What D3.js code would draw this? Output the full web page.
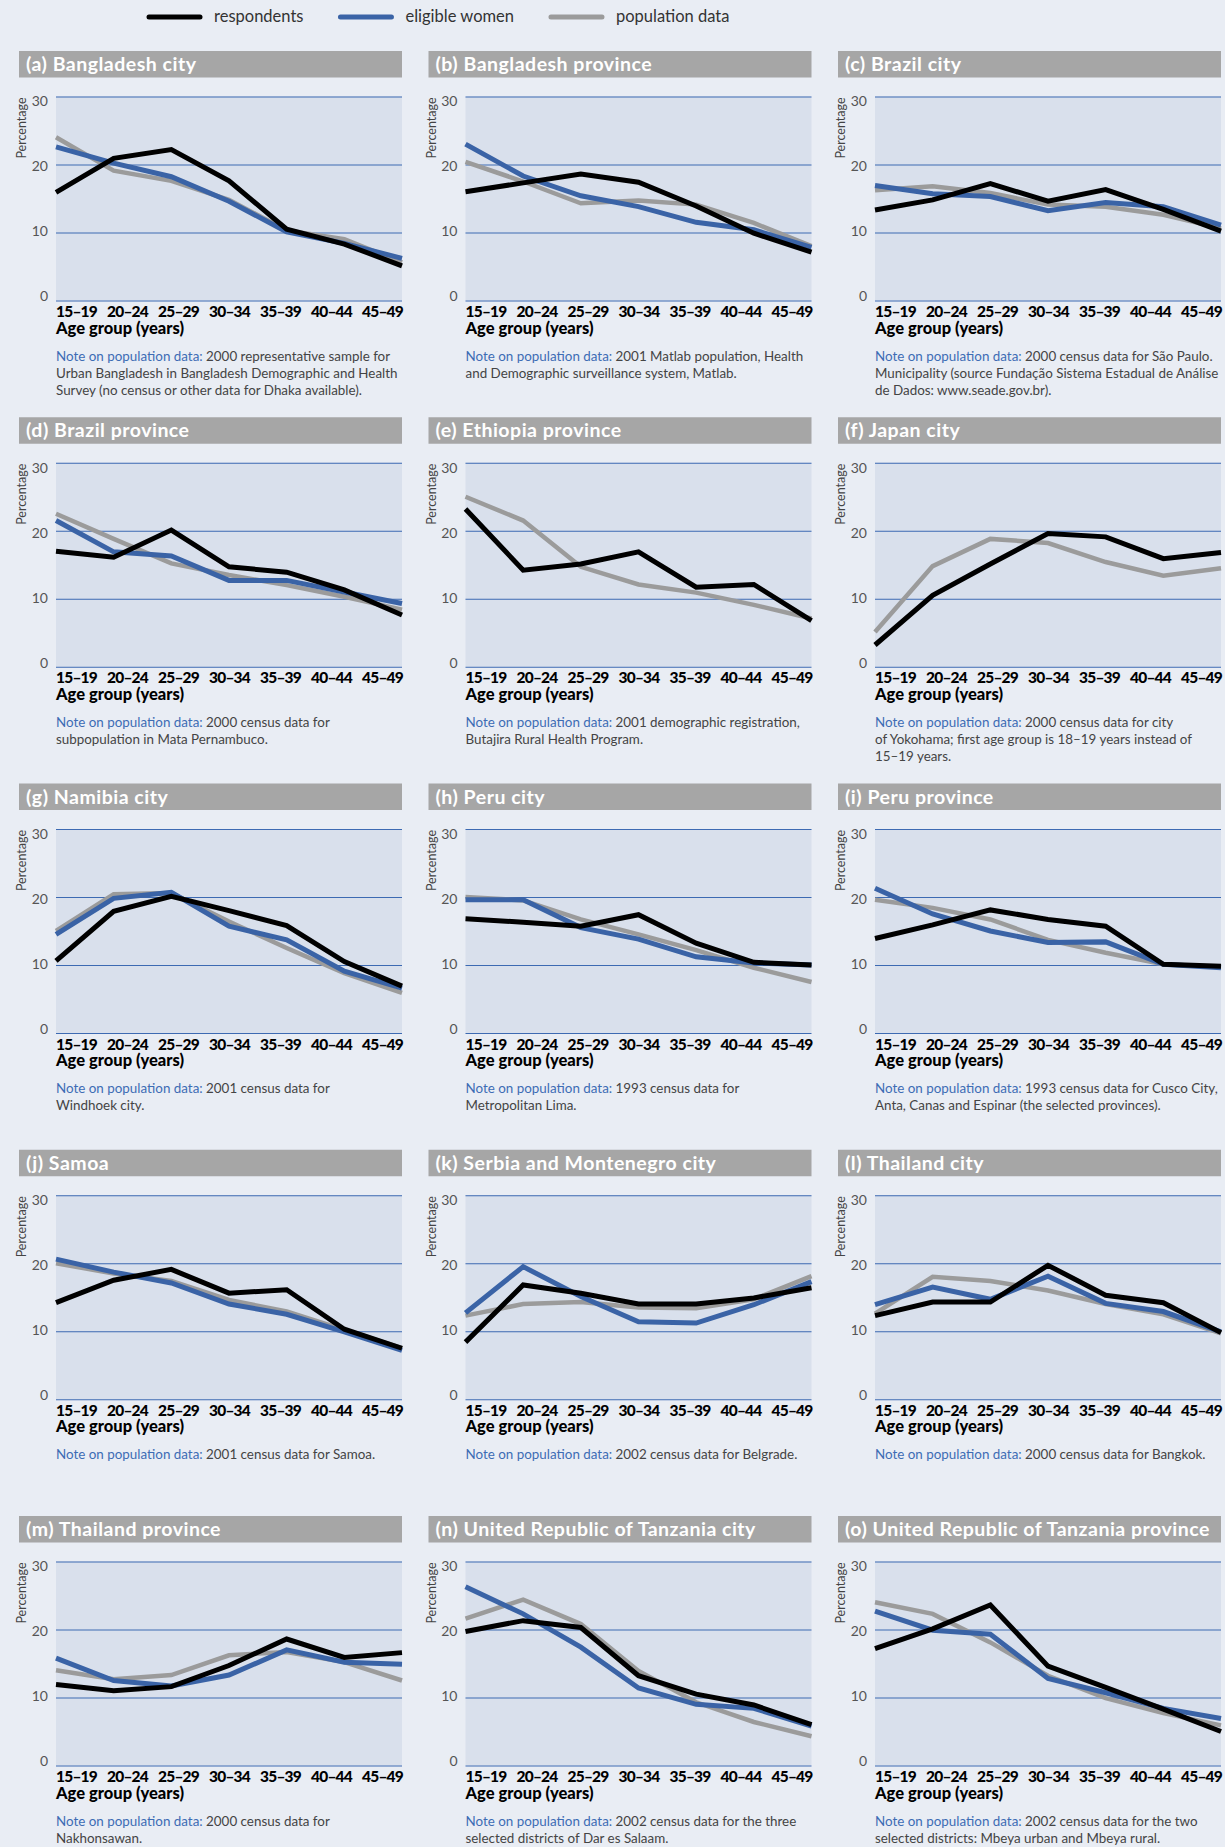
<!DOCTYPE html>
<html>
<head>
<meta charset="utf-8">
<script src="https://d3js.org/d3.v7.min.js"></script>
<style>
body { margin: 0; background: #e9edf4; }
svg { display: block; font-family: Lato, "Open Sans", sans-serif; }
.title { fill: #fff; font-weight: 700; font-size: 19.5px; letter-spacing: 0.5px; }
.xlab text { font-weight: 900; font-size: 15.5px; fill: #000; font-family: Lato, sans-serif; letter-spacing: -0.8px; }
.ylab text { font-size: 14px; fill: #555; font-family: Lato, sans-serif; }
.grid line { stroke: #3d6ab2; stroke-width: 1; }
.axtitle { font-weight: 900; font-size: 16.5px; fill: #000; }
.pct { font-size: 12.5px; fill: #444; }
.note { font-size: 13.4px; fill: #444; }
.note .lead { fill: #3d6cb4; }
.legend text { font-size: 16.5px; fill: #333; }
</style>
</head>
<body>
<svg id="chart" width="1225" height="1847"></svg>
<script>
// categories and tick labels
const ageGroups = ["15–19", "20–24", "25–29", "30–34", "35–39", "40–44", "45–49"];
const yTicks = [0, 10, 20, 30];
const seriesNames = ["respondents", "eligible women", "population data"];

const panelTitles = [
  "(a) Bangladesh city", "(b) Bangladesh province", "(c) Brazil city",
  "(d) Brazil province", "(e) Ethiopia province", "(f) Japan city",
  "(g) Namibia city", "(h) Peru city", "(i) Peru province",
  "(j) Samoa", "(k) Serbia and Montenegro city", "(l) Thailand city",
  "(m) Thailand province", "(n) United Republic of Tanzania city", "(o) United Republic of Tanzania province"
];

// percentages per age group, one row per panel
const respondents = [
  [15.9, 20.9, 22.2, 17.6, 10.5, 8.3, 5.1],
  [16.0, 17.3, 18.6, 17.4, 13.9, 9.9, 7.1],
  [13.3, 14.8, 17.2, 14.6, 16.3, 13.4, 10.2],
  [17.0, 16.1, 20.1, 14.7, 13.9, 11.3, 7.6],
  [23.2, 14.2, 15.1, 16.9, 11.7, 12.1, 6.8],
  [3.2, 10.5, 15.1, 19.6, 19.1, 15.9, 16.8],
  [10.6, 17.9, 20.1, 18.0, 15.8, 10.5, 6.9],
  [16.8, 16.3, 15.7, 17.4, 13.2, 10.4, 10.0],
  [13.9, 15.9, 18.1, 16.7, 15.7, 10.1, 9.8],
  [14.2, 17.5, 19.1, 15.6, 16.1, 10.3, 7.5],
  [8.4, 16.8, 15.6, 14.0, 14.0, 14.9, 16.4],
  [12.3, 14.3, 14.3, 19.7, 15.3, 14.2, 9.8],
  [11.9, 11.0, 11.6, 14.7, 18.6, 15.9, 16.6],
  [19.7, 21.3, 20.3, 13.2, 10.5, 8.9, 6.0],
  [17.2, 20.1, 23.6, 14.6, 11.5, 8.3, 5.0]
];

const eligibleWomen = [
  [22.6, 20.2, 18.2, 14.6, 10.1, 8.4, 6.2],
  [23.0, 18.3, 15.4, 13.8, 11.5, 10.4, 7.8],
  [16.9, 15.7, 15.3, 13.2, 14.4, 13.8, 11.1],
  [21.5, 16.9, 16.3, 12.7, 12.7, 11.0, 9.3],
  null,
  null,
  [14.5, 19.8, 20.7, 15.7, 13.7, 9.1, 6.6],
  [19.6, 19.6, 15.5, 13.8, 11.2, 10.3, 10.0],
  [21.3, 17.5, 15.0, 13.3, 13.4, 10.1, 9.6],
  [20.6, 18.7, 17.1, 14.0, 12.5, 9.9, 7.2],
  [12.7, 19.5, 15.1, 11.4, 11.2, 13.9, 17.3],
  [13.9, 16.5, 14.7, 18.1, 14.1, 12.9, 9.9],
  [15.8, 12.5, 11.7, 13.3, 17.0, 15.2, 14.9],
  [26.3, 22.3, 17.4, 11.4, 9.0, 8.4, 5.8],
  [22.7, 19.9, 19.3, 12.8, 10.7, 8.4, 6.9]
];

const populationData = [
  [24.0, 19.1, 17.6, 14.8, 10.3, 9.0, 5.6],
  [20.4, 17.5, 14.3, 14.7, 14.1, 11.4, 8.0],
  [16.2, 16.8, 15.8, 14.1, 13.8, 12.6, 10.6],
  [22.5, 18.8, 15.2, 13.5, 12.0, 10.3, 8.4],
  [25.0, 21.5, 14.7, 12.1, 10.9, 9.1, 7.1],
  [5.1, 14.8, 18.8, 18.2, 15.4, 13.4, 14.5],
  [15.0, 20.4, 20.6, 16.4, 12.5, 8.8, 5.9],
  [20.0, 19.5, 16.7, 14.5, 12.2, 9.6, 7.5],
  [19.6, 18.4, 16.7, 13.7, 11.8, 10.1, 9.7],
  [20.0, 18.5, 17.4, 14.6, 12.9, 10.2, 7.5],
  [12.3, 14.0, 14.3, 13.5, 13.4, 14.7, 18.1],
  [12.6, 18.0, 17.4, 16.0, 14.0, 12.5, 9.7],
  [14.0, 12.7, 13.3, 16.2, 16.7, 15.2, 12.5],
  [21.6, 24.4, 20.8, 13.9, 9.3, 6.4, 4.3],
  [24.0, 22.3, 18.1, 13.2, 9.9, 7.7, 5.9]
];

const noteLead = "Note on population data:";
const noteLines = [
  [" 2000 representative sample for", "Urban Bangladesh in Bangladesh Demographic and Health", "Survey (no census or other data for Dhaka available)."],
  [" 2001 Matlab population, Health", "and Demographic surveillance system, Matlab."],
  [" 2000 census data for São Paulo.", "Municipality (source Fundação Sistema Estadual de Análise", "de Dados: www.seade.gov.br)."],
  [" 2000 census data for", "subpopulation in Mata Pernambuco."],
  [" 2001 demographic registration,", "Butajira Rural Health Program."],
  [" 2000 census data for city", "of Yokohama; first age group is 18–19 years instead of", "15–19 years."],
  [" 2001 census data for", "Windhoek city."],
  [" 1993 census data for", "Metropolitan Lima."],
  [" 1993 census data for Cusco City,", "Anta, Canas and Espinar (the selected provinces)."],
  [" 2001 census data for Samoa."],
  [" 2002 census data for Belgrade."],
  [" 2000 census data for Bangkok."],
  [" 2000 census data for", "Nakhonsawan."],
  [" 2002 census data for the three", "selected districts of Dar es Salaam."],
  [" 2002 census data for the two", "selected districts:  Mbeya urban and Mbeya rural."]
];

// styling / layout
const colors = ["#000000", "#3a63a6", "#9b9b9b"];
const widths = [5, 5, 4.5];
const colX = c => 19 + c * 409.5;
const rowY = r => 51 + r * 366.25;
const titleW = 383, titleH = 26.5;
const plotL = 37, plotT = 45.5, plotW = 346, plotH = 204;

const svg = d3.select("#chart");

const x = d3.scalePoint().domain(ageGroups).range([0, plotW]);
const xLab = d3.scalePoint().domain(ageGroups).range([20, plotW - 20]);
const y = d3.scaleLinear().domain([0, 30]).range([plotH, 0]);
const yLab = d3.scaleLinear().domain([0, 30]).range([plotH - 4, 5]);

// legend
const legend = svg.append("g").attr("class", "legend").attr("transform", "translate(149,17)");
let lx = 0;
seriesNames.forEach((name, i) => {
  legend.append("line")
    .attr("x1", lx).attr("x2", lx + 51).attr("y1", 0).attr("y2", 0)
    .attr("stroke", colors[i]).attr("stroke-width", 5).attr("stroke-linecap", "round");
  const t = legend.append("text").attr("x", lx + 65).attr("y", 5).text(name);
  lx += 65 + t.node().getComputedTextLength() + 37;
});

panelTitles.forEach((title, i) => {
  const g = svg.append("g")
    .attr("transform", "translate(" + colX(i % 3) + "," + rowY(Math.floor(i / 3)) + ")");

  g.append("rect").attr("width", titleW).attr("height", titleH).attr("fill", "#a6a6a6");
  g.append("text").attr("class", "title").attr("x", 7).attr("y", 20).text(title);

  const p = g.append("g").attr("transform", "translate(" + plotL + "," + plotT + ")");
  p.append("rect").attr("width", plotW).attr("height", plotH).attr("fill", "#d9e0ec");

  // gridlines
  p.append("g").attr("class", "grid")
    .call(d3.axisLeft(y).tickValues(yTicks).tickSize(-plotW).tickFormat(""))
    .call(a => a.select(".domain").remove());

  // y labels
  p.append("g").attr("class", "ylab").attr("transform", "translate(-8,0)")
    .call(d3.axisLeft(yLab).tickValues(yTicks).tickSize(0).tickPadding(0).tickFormat(d3.format("d")))
    .call(a => a.select(".domain").remove());

  g.append("text").attr("class", "pct")
    .attr("transform", "translate(7," + (plotT + 1) + ") rotate(-90)")
    .attr("text-anchor", "end").text("Percentage");

  // x labels
  p.append("g").attr("class", "xlab").attr("transform", "translate(0," + plotH + ")")
    .call(d3.axisBottom(xLab).tickSize(0).tickPadding(5.5))
    .call(a => a.select(".domain").remove());

  p.append("text").attr("class", "axtitle").attr("x", 0).attr("y", plotH + 33).text("Age group (years)");

  // lines: population, eligible women, respondents (drawn on top)
  const series = [respondents[i], eligibleWomen[i], populationData[i]];
  const line = d3.line().x((d, k) => x(ageGroups[k])).y(d => y(d));
  [2, 1, 0].forEach(s => {
    if (!series[s]) return;
    p.append("path").datum(series[s])
      .attr("fill", "none").attr("stroke", colors[s]).attr("stroke-width", widths[s])
      .attr("stroke-linejoin", "miter").attr("d", line);
  });

  // note
  const note = p.append("text").attr("class", "note").attr("y", plotH + 60);
  noteLines[i].forEach((ln, k) => {
    if (k === 0) {
      const t = note.append("tspan").attr("x", 0);
      t.append("tspan").attr("class", "lead").text(noteLead);
      t.append("tspan").text(ln);
    } else {
      note.append("tspan").attr("x", 0).attr("dy", 17).text(ln);
    }
  });
});
</script>
</body>
</html>
